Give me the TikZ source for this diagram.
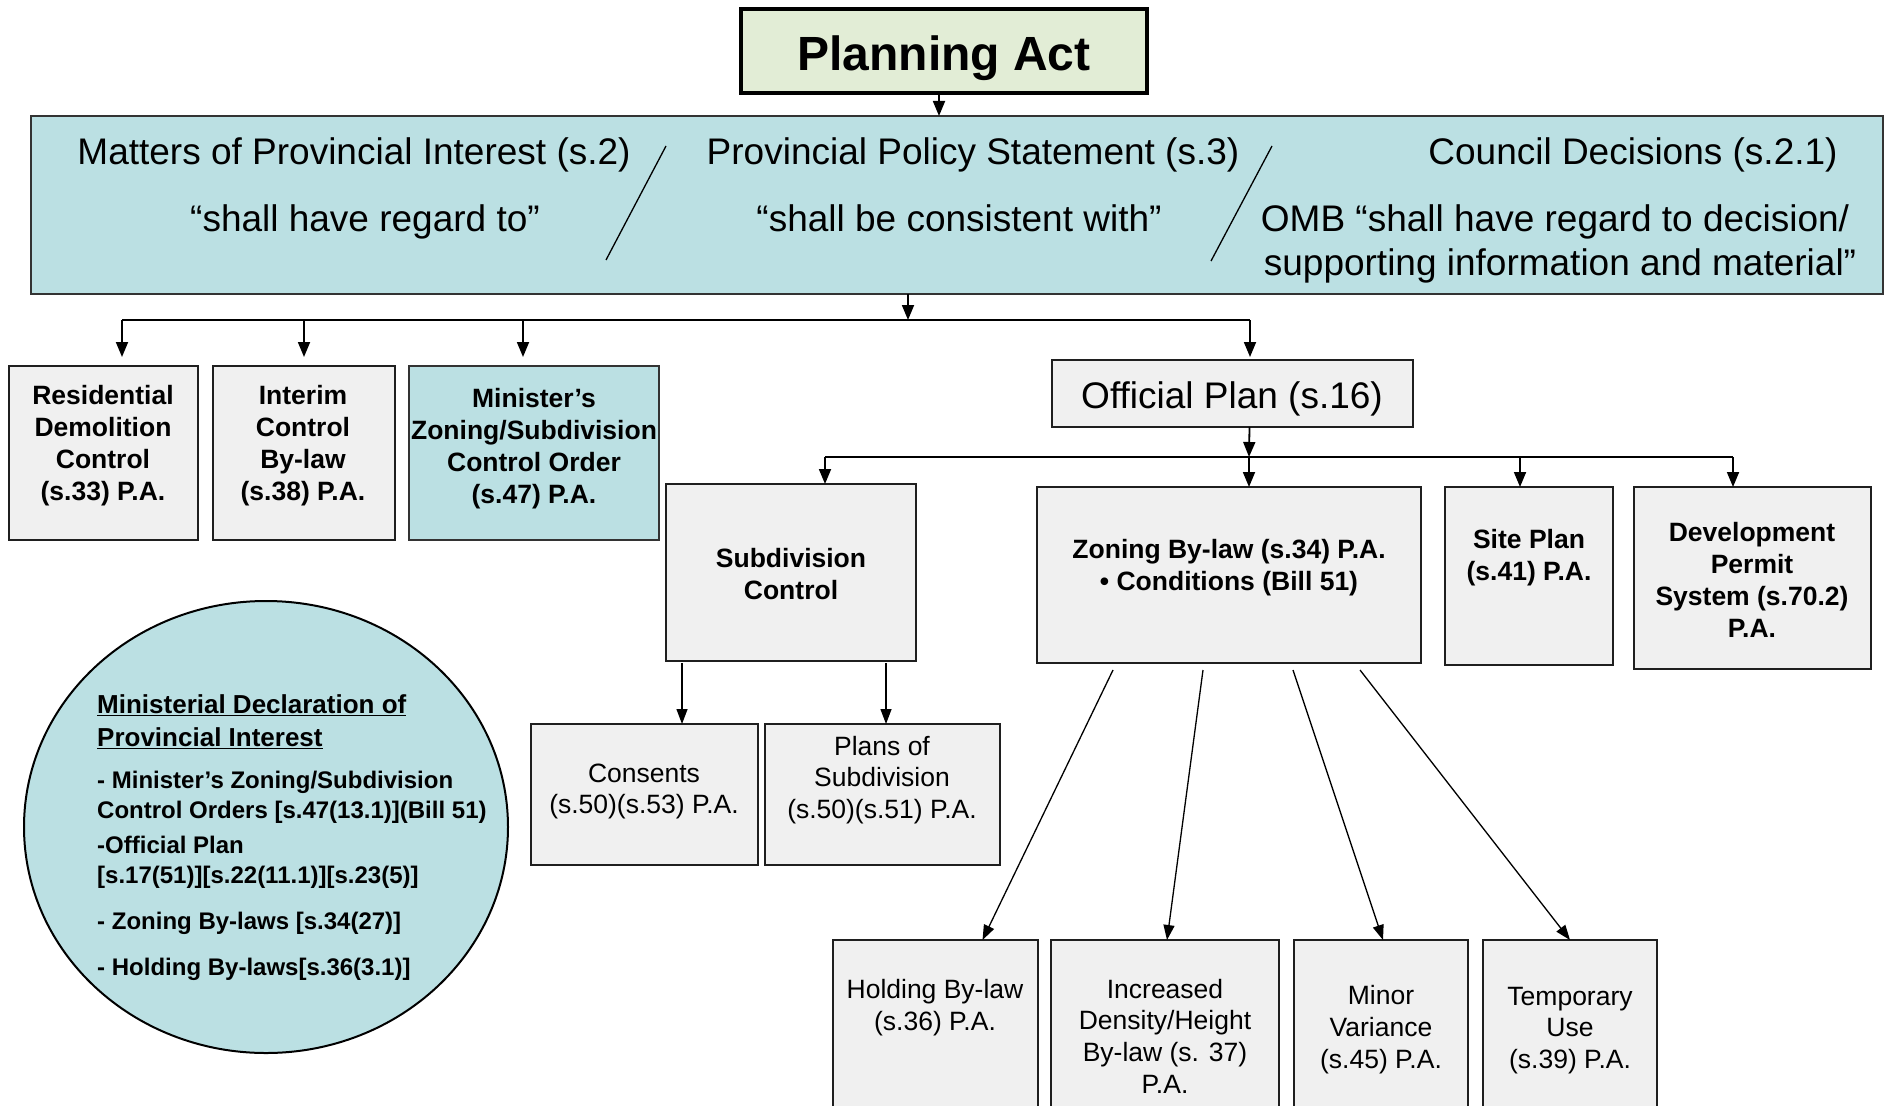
\documentclass[tikz,border=0pt]{standalone}
\usepackage{fontspec}
\setmainfont{Liberation Sans}
\usetikzlibrary{arrows.meta,shapes.geometric}
\definecolor{boxgray}{HTML}{F0F0F0}
\definecolor{paleblue}{HTML}{BBE0E3}
\definecolor{palegreen}{HTML}{E2EDD6}
\newcommand\fs[2]{\fontsize{#1}{#2}\selectfont}
\newcommand\bx[6][gbox]{\node[#1, minimum width={(#5-#3)*1pt}, minimum height={(#6-#4)*1pt}] (#2) at ({(#3+#5)/2},{(#4+#6)/2}) {};}
\begin{document}
\begin{tikzpicture}[x=1pt,y=-1pt,
  gbox/.style={draw=black!88, line width=2pt, fill=boxgray, inner sep=0pt, outer sep=0pt},
  bluebox/.style={draw=black!80, line width=2pt, fill=paleblue, inner sep=0pt, outer sep=0pt},
  pabox/.style={draw=black, line width=4pt, fill=palegreen, inner sep=0pt, outer sep=0pt},
  tb/.style={align=center, font=\fs{26.5}{32}\bfseries, inner sep=0pt},
  tn/.style={align=center, font=\fs{26.5}{31.7}, inner sep=0pt},
  big/.style={font=\fs{37}{44}, inner sep=0pt},
  el/.style={align=left, anchor=west, inner sep=0pt, font=\fs{24}{29.5}\bfseries},
  arr/.style={line width=1.8pt, -{Triangle[length=15pt,width=12pt]}},
  arrthin/.style={line width=1.3pt, -{Triangle[length=15pt,width=11pt]}},
  bus/.style={line width=1.8pt}]
\useasboundingbox (0,0) rectangle (1886,1105);
\clip (0,0) rectangle (1886,1105);

% Planning Act
\bx[pabox]{pa}{741}{9}{1147}{93}
\node[font=\fs{48}{56}\bfseries, inner sep=0pt] at ([yshift=-7pt]pa.center) {Planning Act};

% Blue box
\bx[bluebox]{blue}{31}{116}{1883}{294}
\node[big] (t1) at (354,154.5) {Matters of Provincial Interest (s.2)};
\node[big] (t2) at (365,222) {“shall have regard to”};
\node[big] (t3) at (973,154.5) {Provincial Policy Statement (s.3)};
\node[big] (t4) at (959,218) {“shall be consistent with”};
\node[big] (t5) at (1633,154.5) {Council Decisions (s.2.1)};
\node[big] (t6) at (1555,222) {OMB “shall have regard to decision/};
\node[big] (t7) at (1560,266) {supporting information and material”};
\draw[line width=1.3pt] (666,146) -- (606,260);
\draw[line width=1.3pt] (1272,146) -- (1211,261);

\draw[arr] ([xshift=-5pt]pa.south) -- ([xshift=-5pt]pa.south |- blue.north);

% First row
\bx{res}{9}{366}{198}{540}
\node[tb] at (103,445.5) {Residential\\Demolition\\Control\\(s.33) P.A.};
\bx{icb}{213}{366}{395}{540}
\node[tb] at (303,445.5) {Interim\\Control\\By-law\\(s.38) P.A.};
\bx[bluebox]{mzo}{409}{366}{659}{540}
\node[tb] at (534,448.5) {Minister’s\\Zoning/Subdivision\\Control Order\\(s.47) P.A.};

\bx{op}{1052}{360}{1413}{427}
\node[big] at (1232,398.5) {Official Plan (s.16)};

% bus 1
\coordinate (j1) at (908,320);
\coordinate (b1) at (122,320);
\coordinate (b2) at (304,320);
\coordinate (b3) at (523,320);
\coordinate (b4) at (1250,320);
\draw[arr] (blue.south -| j1) -- (j1);
\draw[bus] (b1) -- (b4);
\draw[arr, shorten >=9pt] (b1) -- (b1 |- res.north);
\draw[arr, shorten >=9pt] (b2) -- (b2 |- icb.north);
\draw[arr, shorten >=9pt] (b3) -- (b3 |- mzo.north);
\draw[arr, shorten >=3pt] (b4) -- (b4 |- op.north);

% Second row
\bx{sc}{666}{484}{916}{661}
\node[tb] at (791,574) {Subdivision\\Control};
\bx{zb}{1037}{487}{1421}{663}
\node[tb] at (1229,567.5) {Zoning By-law (s.34) P.A.\\• Conditions (Bill 51)};
\bx{sp}{1445}{487}{1613}{665}
\node[tb] at (1529,557.5) {Site Plan\\(s.41) P.A.};
\bx{dp}{1634}{487}{1871}{669}
\node[tb] at (1752,580) {Development\\Permit\\System (s.70.2)\\P.A.};

% bus 2
\coordinate (c0) at (1249,457);
\coordinate (c1) at (825,457);
\coordinate (c2) at (1520,457);
\coordinate (c3) at (1733,457);
\draw[arr] ([xshift=17pt]op.south) -- (c0);
\draw[bus] (c1) -- (c3);
\draw[arr] (c1) -- (c1 |- sc.north);
\draw[arr] (c0) -- (c0 |- zb.north);
\draw[arr] (c2) -- (c2 |- sp.north);
\draw[arr] (c3) -- (c3 |- dp.north);

% Subdivision children
\bx{cons}{531}{724}{758}{865}
\node[tn] at (644,791.5) {Consents\\(s.50)(s.53) P.A.};
\bx{plans}{765}{724}{1000}{865}
\node[tn] at (882,780) {Plans of\\Subdivision\\(s.50)(s.51) P.A.};
\draw[arrthin] ([xshift=-109pt,yshift=-2pt]sc.south) -- ([xshift=-109pt]sc.south |- cons.north);
\draw[arrthin] ([xshift=95pt,yshift=-2pt]sc.south) -- ([xshift=95pt]sc.south |- plans.north);

% Zoning children
\bx{hold}{833}{940}{1038}{1125}
\node[tn] at (935,1007.5) {Holding By-law\\(s.36) P.A.};
\bx{incr}{1051}{940}{1279}{1125}
\node[tn] at (1165,1036) {Increased\\Density/Height\\By-law (s. 37)\\P.A.};
\bx{minor}{1294}{940}{1468}{1125}
\node[tn] at (1381,1029.5) {Minor\\Variance\\(s.45) P.A.};
\bx{temp}{1483}{940}{1657}{1125}
\node[tn] at (1570,1030.5) {Temporary\\Use\\(s.39) P.A.};
\draw[arrthin] ([xshift=-116pt,yshift=-7pt]zb.south) -- ([xshift=47pt]hold.north);
\draw[arrthin] ([xshift=-26pt,yshift=-7pt]zb.south) -- ([xshift=2pt]incr.north);
\draw[arrthin] ([xshift=64pt,yshift=-7pt]zb.south) -- ([xshift=2pt]minor.north);
\draw[arrthin] ([xshift=131pt,yshift=-7pt]zb.south) -- (temp.north);

% Ellipse
\node[draw=black, line width=2pt, fill=paleblue, ellipse, minimum width=484pt, minimum height=452pt, inner sep=0pt] (mdpi) at (266,827) {};
\node[el, font=\fs{26}{33}\bfseries] at (97,721.5) {\underline{Ministerial Declaration of}\\\underline{Provincial Interest}};
\node[el] at (97,797.5) {- Minister’s Zoning/Subdivision\\Control Orders [s.47(13.1)](Bill 51)};
\node[el] at (97,862.5) {-Official Plan\\{}[s.17(51)][s.22(11.1)][s.23(5)]};
\node[el] at (97,923.5) {- Zoning By-laws [s.34(27)]};
\node[el] at (97,969.5) {- Holding By-laws[s.36(3.1)]};
\end{tikzpicture}
\end{document}
